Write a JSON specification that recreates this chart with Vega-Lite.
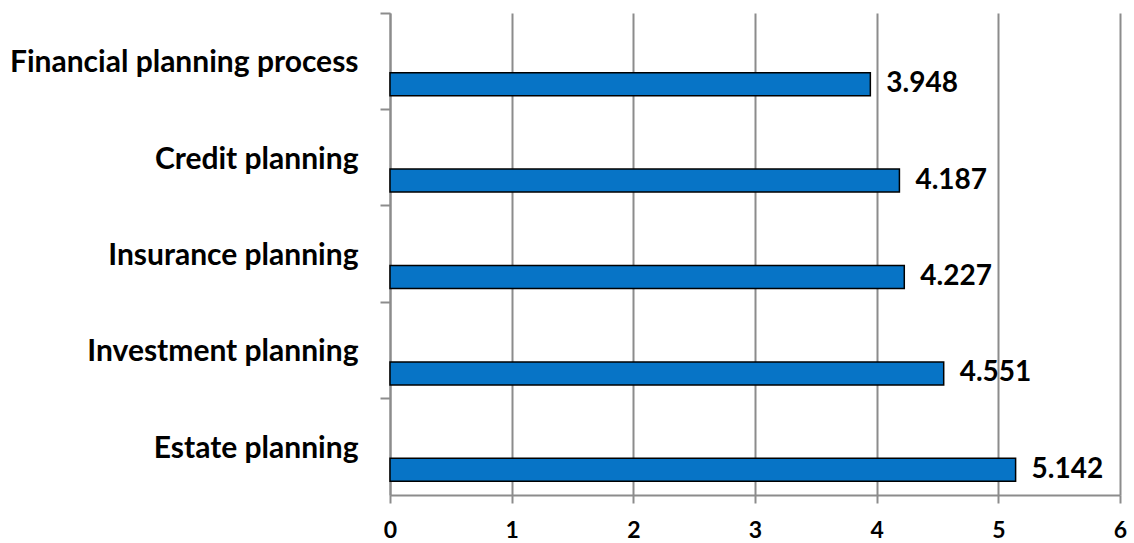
{
  "$schema": "https://vega.github.io/schema/vega-lite/v6.json",
  "autosize": "none",
  "width": 730,
  "height": 482,
  "padding": {"left": 390, "top": 13, "right": 14, "bottom": 48},
  "background": "white",
  "config": {"view": {"stroke": null}},
  "data": {"values": [
    {"category": "Financial planning process", "value": 3.948},
    {"category": "Credit planning", "value": 4.187},
    {"category": "Insurance planning", "value": 4.227},
    {"category": "Investment planning", "value": 4.551},
    {"category": "Estate planning", "value": 5.142}
  ]},
  "encoding": {
    "y": {
      "field": "category", "type": "nominal", "sort": null,
      "scale": {"paddingInner": 0, "paddingOuter": 0},
      "axis": {
        "title": null, "bandPosition": 0,
        "domainColor": "#8c8c8c", "domainWidth": 2,
        "tickColor": "#8c8c8c", "tickWidth": 2, "tickSize": 10,
        "labelFont": "Lato", "labelFontSize": 30, "labelFontWeight": "bold",
        "labelColor": "black", "labelPadding": 22, "labelLimit": 400, "labelOffset": 2
      }
    },
    "x": {
      "field": "value", "type": "quantitative",
      "scale": {"domain": [0, 6], "nice": false},
      "axis": {
        "title": null, "values": [0, 1, 2, 3, 4, 5, 6], "labelOverlap": false, "labelFlush": false,
        "grid": true, "gridColor": "#8c8c8c", "gridWidth": 2,
        "domainColor": "#8c8c8c", "domainWidth": 2,
        "tickColor": "#8c8c8c", "tickWidth": 2, "tickSize": 8,
        "labelFont": "Lato", "labelFontSize": 23, "labelFontWeight": "bold",
        "labelColor": "black", "labelPadding": 16, "format": "d"
      }
    }
  },
  "layer": [
    {
      "mark": {"type": "bar", "height": 23, "yOffset": 23, "fill": "#0774C6", "stroke": "black", "strokeWidth": 1.5}
    },
    {
      "mark": {"type": "text", "align": "left", "baseline": "middle", "dx": 16, "yOffset": 23, "font": "Lato", "fontSize": 28, "fontWeight": "bold", "color": "black"},
      "encoding": {"text": {"field": "value", "type": "quantitative", "format": ".3f"}}
    }
  ]
}
